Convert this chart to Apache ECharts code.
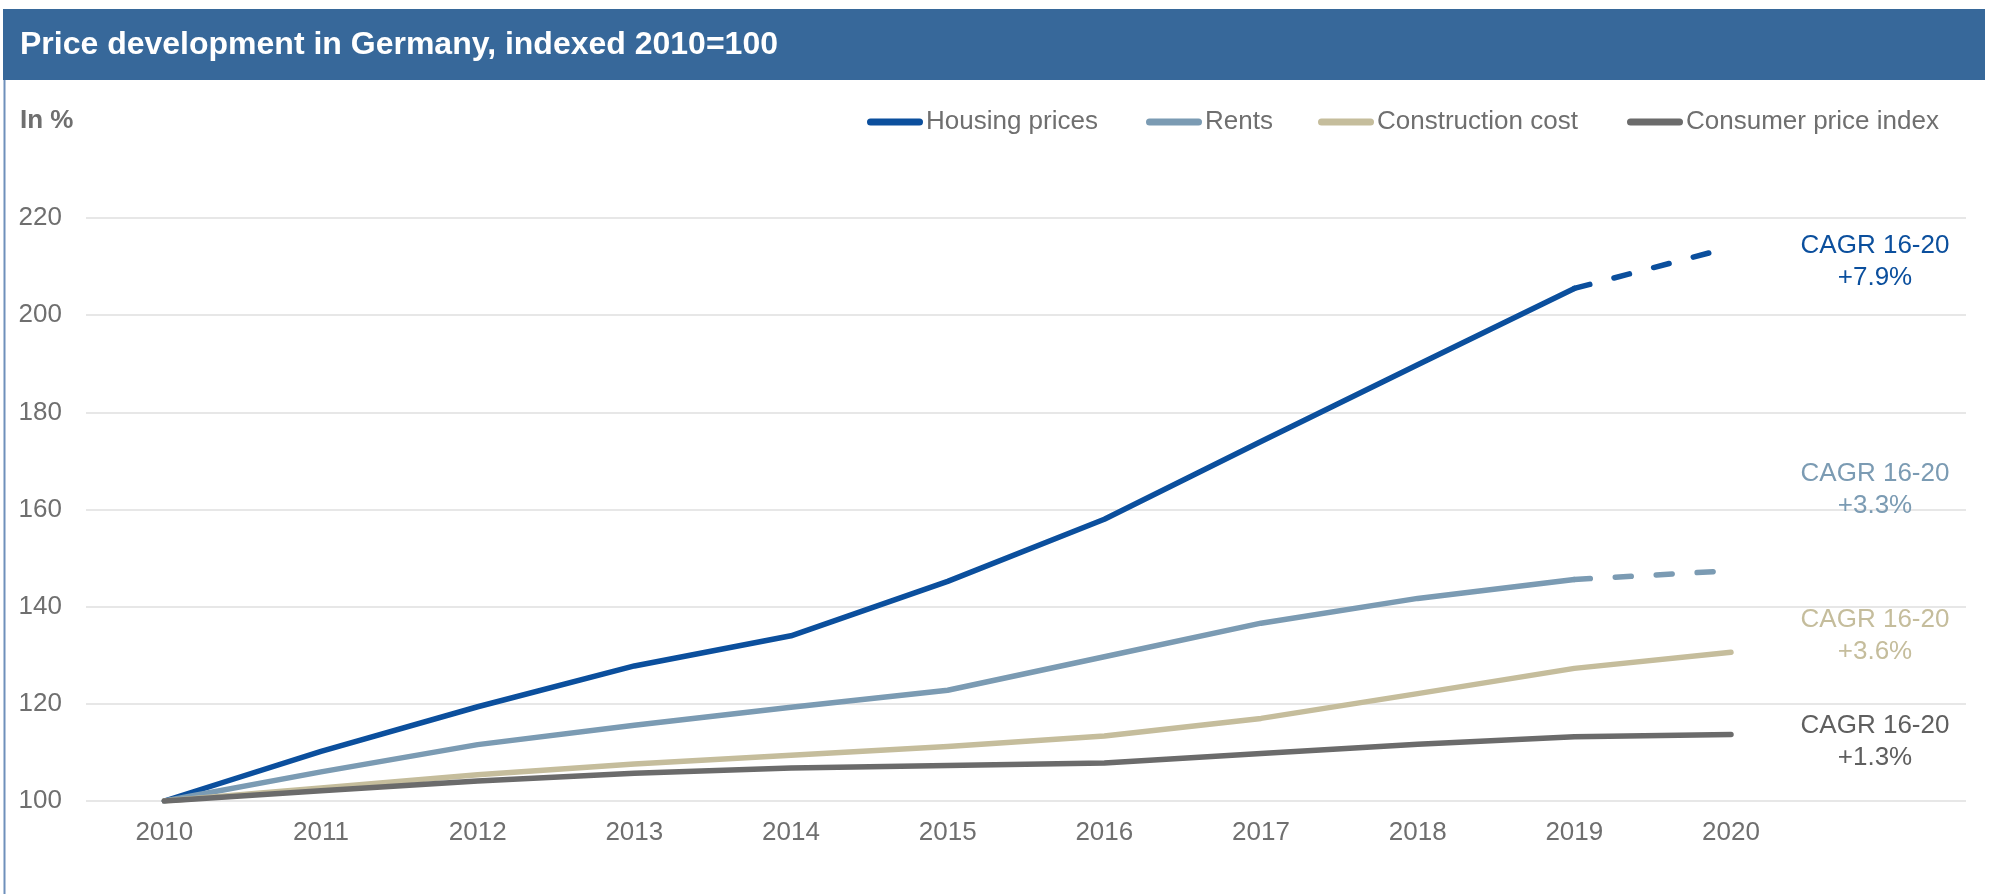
<!DOCTYPE html>
<html>
<head>
<meta charset="utf-8">
<script src="https://cdn.jsdelivr.net/npm/echarts@6/dist/echarts.min.js"></script>
<style>
  html, body { margin: 0; padding: 0; background: #ffffff; }
  #chart { width: 1992px; height: 894px; }
</style>
</head>
<body>
<div id="chart"></div>
<script>
// Index values, 2010 = 100
const years = ['2010', '2011', '2012', '2013', '2014', '2015', '2016', '2017', '2018', '2019', '2020'];
const housingPrices      = [100, 110.2, 119.4, 127.8, 134.0, 145.2, 158.0, 174.0, 189.8, 205.5, 214.0];
const rents              = [100, 106.0, 111.6, 115.6, 119.3, 122.8, 129.7, 136.6, 141.7, 145.6, 147.4];
const constructionCost   = [100, 102.7, 105.4, 107.6, 109.4, 111.2, 113.4, 117.0, 122.1, 127.3, 130.6];
const consumerPriceIndex = [100, 102.1, 104.1, 105.7, 106.8, 107.3, 107.8, 109.8, 111.7, 113.2, 113.7];

const seriesNames = ['Housing prices', 'Rents', 'Construction cost', 'Consumer price index'];
const cagrPeriod = 'CAGR 16-20';
const cagrValues = ['+7.9%', '+3.3%', '+3.6%', '+1.3%'];
const yTickValues = [100, 120, 140, 160, 180, 200, 220];

const FONT = '"Liberation Sans", Arial, Helvetica, sans-serif';
const COLORS = ['#0b4f9d', '#7b9bb3', '#c5bd9c', '#6b6b6b'];
const NOTE_COLORS = ['#0b4f9d', '#7b9bb3', '#c5bd9c', '#5f5f5f'];
const TEXT_GREY = '#6f6f6f';

// the last year (2020) is an estimate for housing prices and rents: drawn dashed
const lastActual = years.indexOf('2019');
const actualPart = arr => arr.map((v, i) => (i <= lastActual ? v : null));
const estimatePart = arr => arr.map((v, i) => (i >= lastActual ? v : null));

// an empty trailing band leaves room for the CAGR notes
const categories = years.concat(['']);

const lineIcon = 'path://M3.5,0 L52.5,0 A3.5,3.5 0 0 1 52.5,7 L3.5,7 A3.5,3.5 0 0 1 3.5,0 Z';

function lineSeries(name, data, color, dashed) {
  return {
    type: 'line',
    name: name,
    data: data,
    symbol: 'none',
    connectNulls: false,
    itemStyle: { color: color },
    lineStyle: {
      color: color,
      width: 5.5,
      cap: 'round',
      join: 'round',
      type: dashed ? [16, 25] : 'solid'
    },
    emphasis: { disabled: true },
    silent: true
  };
}

const chart = echarts.init(document.getElementById('chart'), null, { renderer: 'canvas' });

const legendLefts = [867, 1146, 1318, 1627];
const noteCenters = [262, 490, 636, 742];

chart.setOption({
  animation: false,
  backgroundColor: '#ffffff',
  textStyle: { fontFamily: FONT },
  grid: { left: 86, right: 26, top: 218, bottom: 93, containLabel: false },
  legend: seriesNames.map((name, i) => ({
    data: [name],
    left: legendLefts[i],
    top: 107,
    padding: 0,
    itemWidth: 56,
    itemHeight: 7,
    icon: lineIcon,
    selectedMode: false,
    textStyle: { fontFamily: FONT, fontSize: 26, color: TEXT_GREY, lineHeight: 30, padding: [0, 0, 0, -2] }
  })),
  xAxis: {
    type: 'category',
    data: categories,
    boundaryGap: true,
    axisLine: { show: false },
    axisTick: { show: false },
    axisLabel: { interval: 0, margin: 19, fontSize: 26, color: TEXT_GREY, fontFamily: FONT }
  },
  yAxis: {
    type: 'value',
    min: yTickValues[0],
    max: yTickValues[yTickValues.length - 1],
    interval: yTickValues[1] - yTickValues[0],
    axisLine: { show: false },
    axisTick: { show: false },
    axisLabel: { margin: 24, fontSize: 26, color: TEXT_GREY, fontFamily: FONT },
    splitLine: { show: true, lineStyle: { color: '#e7e7e7', width: 2 } }
  },
  series: [
    lineSeries(seriesNames[0], actualPart(housingPrices), COLORS[0], false),
    lineSeries(seriesNames[0], estimatePart(housingPrices), COLORS[0], true),
    lineSeries(seriesNames[1], actualPart(rents), COLORS[1], false),
    lineSeries(seriesNames[1], estimatePart(rents), COLORS[1], true),
    lineSeries(seriesNames[2], constructionCost, COLORS[2], false),
    lineSeries(seriesNames[3], consumerPriceIndex, COLORS[3], false)
  ],
  graphic: [
    // header band
    { type: 'rect', shape: { x: 3, y: 9, width: 1982, height: 71 }, style: { fill: '#37689a' }, silent: true },
    {
      type: 'text', x: 20, y: 45, silent: true,
      style: { text: 'Price development in Germany, indexed 2010=100', fill: '#ffffff',
               font: 'bold 32px ' + FONT, verticalAlign: 'middle', textAlign: 'left' }
    },
    // frame edge on the left
    { type: 'line', shape: { x1: 4.5, y1: 80, x2: 4.5, y2: 894 }, style: { stroke: '#6f90bb', lineWidth: 2 }, silent: true },
    // unit
    {
      type: 'text', x: 20, y: 121, silent: true,
      style: { text: 'In %', fill: TEXT_GREY, font: 'bold 26px ' + FONT, verticalAlign: 'middle', textAlign: 'left' }
    }
  ].concat(cagrValues.map((v, i) => ({
    type: 'text', x: 1875, y: noteCenters[i], silent: true, z: 10,
    style: { text: cagrPeriod + '\n' + v, fill: NOTE_COLORS[i], font: '26px ' + FONT, lineHeight: 32,
             verticalAlign: 'middle', textAlign: 'center' }
  })))
});
</script>
</body>
</html>
